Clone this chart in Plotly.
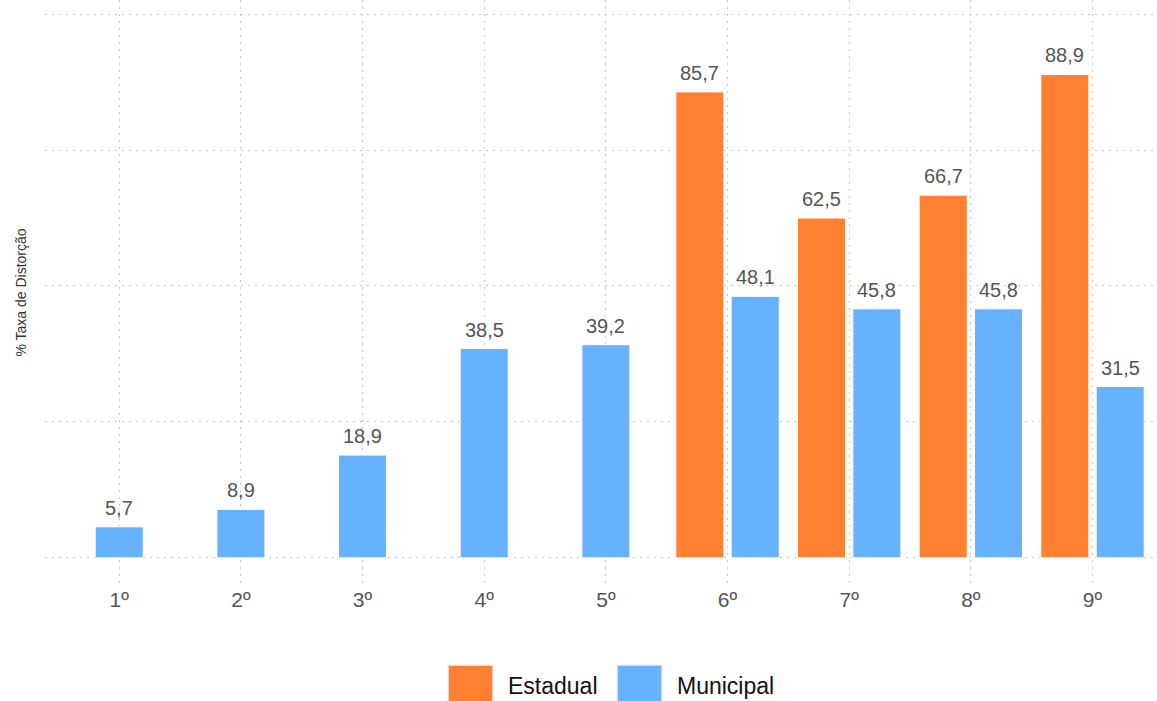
import plotly.graph_objects as go

series_names = ["Estadual", "Municipal"]
anos = ["1º", "2º", "3º", "4º", "5º", "6º", "7º", "8º", "9º"]
estadual = [None, None, None, None, None, 85.7, 62.5, 66.7, 88.9]
municipal = [5.7, 8.9, 18.9, 38.5, 39.2, 48.1, 45.8, 45.8, 31.5]

cores = ["#FF8030", "#66B2FF"]
bar_w = 0.395
gap = 0.455  # distance between paired bar centres


# bars of a category sit side by side when both exist, otherwise centred
def centres(vals, other, side):
    out = []
    for v, o in zip(vals, other):
        out.append(0 if o is None else side * gap / 2)
    return out


fig = go.Figure()
for i, (vals, other, side) in enumerate([(estadual, municipal, -1),
                                         (municipal, estadual, 1)]):
    c = centres(vals, other, side)
    fig.add_trace(go.Bar(
        x=anos, y=vals, name=series_names[i],
        marker=dict(color=cores[i], line=dict(color="#ffffff", width=1)),
        width=bar_w, offset=[d - bar_w / 2 for d in c],
        showlegend=False, hoverinfo="x+y",
    ))
    # value labels
    for k, v in enumerate(vals):
        if v is None:
            continue
        fig.add_annotation(x=k + c[k], y=v, text=f"{v:.1f}".replace(".", ","),
                           showarrow=False, yanchor="bottom", yshift=6,
                           font=dict(size=20, color="#555555"))

# legend drawn by hand to get the big square swatches
legend_x = [0.3624, 0.5144]
for i, nome in enumerate(series_names):
    fig.add_shape(type="rect", xref="paper", yref="paper",
                  x0=legend_x[i], x1=legend_x[i] + 0.0405, y0=-0.215, y1=-0.1368,
                  fillcolor=cores[i], line=dict(color="#eeeeee", width=1.5))
    fig.add_annotation(x=legend_x[i] + 0.052, y=-0.172, xref="paper", yref="paper",
                       text=nome, showarrow=False, xanchor="left", yanchor="middle",
                       font=dict(size=23, color="#111111"))

fig.update_layout(
    width=1157, height=701,
    margin=dict(l=45, r=0, t=0, b=116),
    paper_bgcolor="white", plot_bgcolor="white",
    barmode="overlay",
    separators=",.",
    font=dict(family="Liberation Sans, Arial, sans-serif", color="#555555"),
    xaxis=dict(range=[-0.61, 8.53], showgrid=True, gridcolor="#c8c8c8",
               griddash="2px,5px", gridwidth=1, tickfont=dict(size=21, color="#555555"),
               ticks="", showline=False, zeroline=False),
    yaxis=dict(range=[-5, 102.6], tickvals=[0, 25, 50, 75, 100], showticklabels=False,
               showgrid=True, gridcolor="#c8c8c8", griddash="2px,5px", gridwidth=1,
               zeroline=False, showline=False,
               title=dict(text="% Taxa de Distorção", font=dict(size=14, color="#333333"),
                          standoff=14)),
)

# page body has a default 8px margin; drop it so the chart fills the window
fig.write_html("out.html", config={"displayModeBar": False},
               post_script="document.body.style.margin='0';")
